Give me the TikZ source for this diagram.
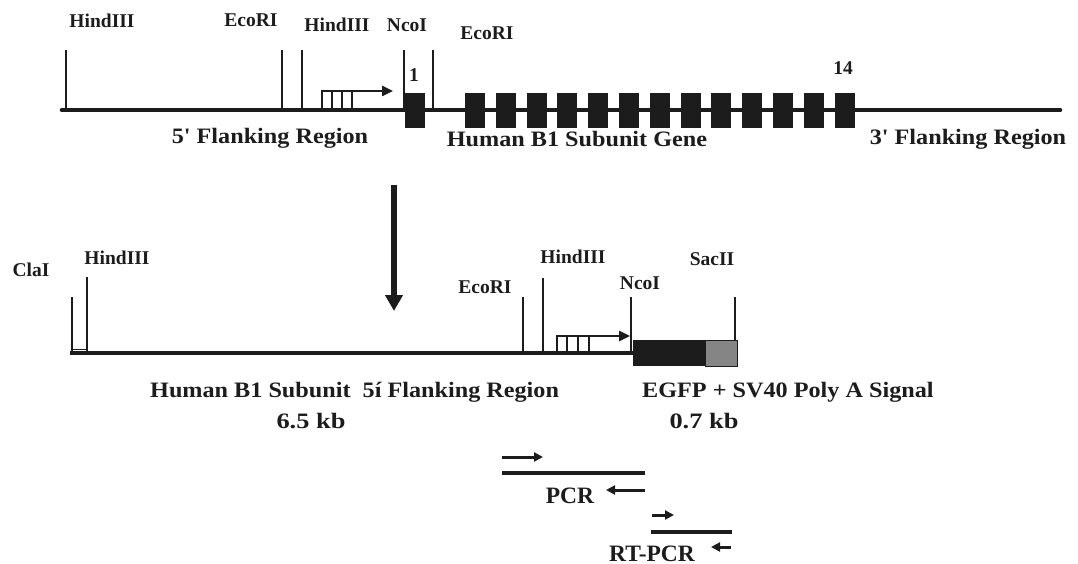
\documentclass[tikz,border=0pt]{standalone}
\usepackage{fontspec}
\setmainfont{Liberation Serif}
\newfontfamily\wideserif[FakeStretch=1.1]{Liberation Serif}
\newfontfamily\widerserif[FakeStretch=1.2]{Liberation Serif}
\usetikzlibrary{arrows.meta}
\definecolor{ink}{HTML}{1C1C1C}
\definecolor{polya}{HTML}{858585}
\begin{document}
\begin{tikzpicture}[x=1pt,y=-1pt,
  every node/.style={inner sep=0pt, text=ink},
  site/.style={draw=ink, line width=2.1pt},
  dna/.style={draw=ink, line width=4.6pt},
  exon/.style={fill=ink, draw=none},
  prom/.style={draw=ink, line width=2.4pt},
  promarrow/.style={draw=ink, line width=2.4pt, -{Triangle[length=11pt,width=10pt]}},
  primer/.style={draw=ink, line width=3pt, -{Triangle[length=9pt,width=9pt]}},
  amplicon/.style={draw=ink, line width=3.4pt},
  sitelbl/.style={anchor=base, font=\fontsize{19.5}{20}\selectfont\bfseries},
  reglbl/.style={anchor=base, font=\wideserif\fontsize{22}{24}\selectfont\bfseries},
  kblbl/.style={anchor=base, font=\widerserif\fontsize{22}{24}\selectfont\bfseries},
  pcrlbl/.style={anchor=base, font=\fontsize{23.5}{25}\selectfont\bfseries},
  bigarrow/.style={draw=ink, line width=5.5pt, -{Triangle[length=16pt,width=17pt]}}
]
\useasboundingbox (0,0) rectangle (1078,564);

% ---------- top: genomic locus ----------
\coordinate (gL) at (62,110);
\coordinate (gR) at (1060,110);
\draw[dna, line cap=round] (gL) -- (gR);

% restriction sites (top)
\draw[site] (66,50) -- (66,110);
\draw[site] (282,50) -- (282,110);
\draw[site] (302,50) -- (302,110);
\draw[site] (404,50) -- (404,110);
\draw[site] (433,50) -- (433,110);
\node[sitelbl] (tH1) at (102,28) {HindIII};
\node[sitelbl] (tE1) at (251,27) {EcoRI};
\node[sitelbl] (tH2) at (337,32) {HindIII};
\node[sitelbl] (tN1) at (407,32) {NcoI};
\node[sitelbl] (tE2) at (487,40) {EcoRI};

% promoter (top)
\draw[prom] (322,110) -- (322,91);
\draw[prom] (332,110) -- (332,91);
\draw[prom] (342,110) -- (342,91);
\draw[prom] (352,110) -- (352,91);
\coordinate (tpS) at (320.8,91);
\coordinate (tpE) at (393,91);
\draw[promarrow] (tpS) -- (tpE);

% exons
\fill[exon] (405,93) rectangle (425,128);
\foreach \k in {0,...,12}{
  \fill[exon] ({465+30.8*\k},93) rectangle ({485+30.8*\k},128);
}
\node[sitelbl] (ex1) at (414,82) {1};
\node[sitelbl] (ex14) at (843,75) {14};

% region labels (top)
\node[reglbl] (r5) at (270,144) {5' Flanking Region};
\node[reglbl] (rG) at (577,147) {Human B1 Subunit Gene};
\node[reglbl] (r3) at (968,145) {3' Flanking Region};

% big arrow
\coordinate (aS) at (394,185);
\coordinate (aE) at (394,311);
\draw[bigarrow] (aS) -- (aE);

% ---------- bottom: construct ----------
\coordinate (cL) at (70,353);
\coordinate (cR) at (738,353);
\draw[dna] (cL) -- (cR);
\draw[draw=ink, line width=1pt] (72,349.5) rectangle (87,353);

% sites (bottom)
\draw[site] (72,297) -- (72,353);
\draw[site] (87,277) -- (87,353);
\draw[site] (523,297) -- (523,353);
\draw[site] (543,278) -- (543,353);
\draw[site] (631,297) -- (631,353);
\draw[site] (735,297) -- (735,353);
\node[sitelbl] (bC) at (31,276) {ClaI};
\node[sitelbl] (bH1) at (117,264) {HindIII};
\node[sitelbl] (bE) at (485,293) {EcoRI};
\node[sitelbl] (bH2) at (573,263) {HindIII};
\node[sitelbl] (bN) at (640,289) {NcoI};
\node[sitelbl] (bS) at (712,265) {SacII};

% promoter (bottom)
\draw[prom] (557,353) -- (557,336);
\draw[prom] (567,353) -- (567,336);
\draw[prom] (578,353) -- (578,336);
\draw[prom] (589,353) -- (589,336);
\coordinate (bpS) at (555.8,336);
\coordinate (bpE) at (630,336);
\draw[promarrow] (bpS) -- (bpE);

% EGFP + polyA
\fill[ink] (633,340) rectangle (705,366);
\fill[polya] (705,340) rectangle (737,366);
\draw[draw=ink, line width=0.8pt] (705,340) rectangle (737,366);

% bottom labels
\node[reglbl, anchor=base west] (lHum) at (150,397) {Human B1 Subunit\ \ 5í Flanking Region};
\node[kblbl] (l65) at (311,428) {6.5 kb};
\node[reglbl, anchor=base west] (lEG) at (642,397) {EGFP + SV40 Poly A Signal};
\node[kblbl] (l07) at (704,428) {0.7 kb};

% ---------- PCR ----------
\coordinate (p1s) at (502,457);
\coordinate (p1e) at (543,457);
\draw[primer] (p1s) -- (p1e);
\coordinate (pLs) at (502,473);
\coordinate (pLe) at (645,473);
\draw[amplicon] (pLs) -- (pLe);
\coordinate (p2s) at (645,490);
\coordinate (p2e) at (606,490);
\draw[primer] (p2s) -- (p2e);
\node[pcrlbl] (lPCR) at (570,503) {PCR};

\coordinate (r1s) at (652,515);
\coordinate (r1e) at (674,515);
\draw[primer] (r1s) -- (r1e);
\coordinate (rLs) at (651,532);
\coordinate (rLe) at (732,532);
\draw[amplicon] (rLs) -- (rLe);
\coordinate (r2s) at (731,547);
\coordinate (r2e) at (711,547);
\draw[primer] (r2s) -- (r2e);
\node[pcrlbl] (lRT) at (652,561) {RT-PCR};
\end{tikzpicture}
\end{document}
